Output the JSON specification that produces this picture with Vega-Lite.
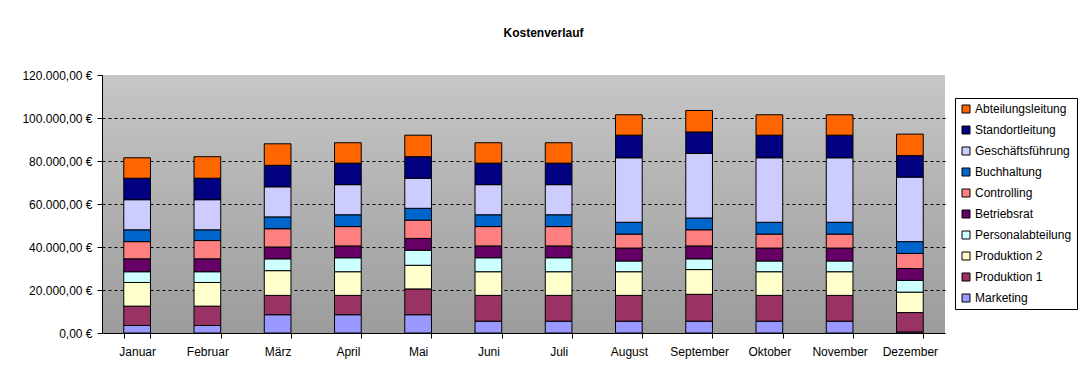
{
  "$schema": "https://vega.github.io/schema/vega-lite/v6.json",
  "width": 843,
  "height": 258,
  "autosize": "none",
  "padding": {"left": 102, "top": 75, "right": 147, "bottom": 50},
  "background": "white",
  "title": {"text": "Kostenverlauf", "fontSize": 12, "font": "Liberation Sans", "fontWeight": "bold", "anchor": "middle", "frame": "group", "dx": 20, "offset": 29, "color": "black"},
  "config": {
    "font": "Liberation Sans",
    "view": {"stroke": null, "fill": {"gradient": "linear", "x1": 0, "y1": 0, "x2": 0, "y2": 1, "stops": [{"offset": 0, "color": "#c6c6c6"}, {"offset": 1, "color": "#9c9c9c"}]}}
  },
  "data": {"values": [
    {"Monat": "Januar", "Marketing": 3500, "Produktion 1": 9000, "Produktion 2": 11000, "Personalabteilung": 5000, "Betriebsrat": 6000, "Controlling": 8000, "Buchhaltung": 5500, "Geschäftsführung": 14000, "Standortleitung": 10000, "Abteilungsleitung": 9500},
    {"Monat": "Februar", "Marketing": 3500, "Produktion 1": 9000, "Produktion 2": 11000, "Personalabteilung": 5000, "Betriebsrat": 6000, "Controlling": 8500, "Buchhaltung": 5000, "Geschäftsführung": 14000, "Standortleitung": 10000, "Abteilungsleitung": 10000},
    {"Monat": "März", "Marketing": 8500, "Produktion 1": 9000, "Produktion 2": 11500, "Personalabteilung": 5500, "Betriebsrat": 5500, "Controlling": 8500, "Buchhaltung": 5500, "Geschäftsführung": 14000, "Standortleitung": 10000, "Abteilungsleitung": 10000},
    {"Monat": "April", "Marketing": 8500, "Produktion 1": 9000, "Produktion 2": 11000, "Personalabteilung": 6500, "Betriebsrat": 5500, "Controlling": 9000, "Buchhaltung": 5500, "Geschäftsführung": 14000, "Standortleitung": 10000, "Abteilungsleitung": 9500},
    {"Monat": "Mai", "Marketing": 8500, "Produktion 1": 12000, "Produktion 2": 11000, "Personalabteilung": 7000, "Betriebsrat": 5500, "Controlling": 8500, "Buchhaltung": 5500, "Geschäftsführung": 14000, "Standortleitung": 10000, "Abteilungsleitung": 10000},
    {"Monat": "Juni", "Marketing": 5500, "Produktion 1": 12000, "Produktion 2": 11000, "Personalabteilung": 6500, "Betriebsrat": 5500, "Controlling": 9000, "Buchhaltung": 5500, "Geschäftsführung": 14000, "Standortleitung": 10000, "Abteilungsleitung": 9500},
    {"Monat": "Juli", "Marketing": 5500, "Produktion 1": 12000, "Produktion 2": 11000, "Personalabteilung": 6500, "Betriebsrat": 5500, "Controlling": 9000, "Buchhaltung": 5500, "Geschäftsführung": 14000, "Standortleitung": 10000, "Abteilungsleitung": 9500},
    {"Monat": "August", "Marketing": 5500, "Produktion 1": 12000, "Produktion 2": 11000, "Personalabteilung": 5000, "Betriebsrat": 6000, "Controlling": 6500, "Buchhaltung": 5500, "Geschäftsführung": 30000, "Standortleitung": 10500, "Abteilungsleitung": 9500},
    {"Monat": "September", "Marketing": 5500, "Produktion 1": 12500, "Produktion 2": 11500, "Personalabteilung": 5000, "Betriebsrat": 6000, "Controlling": 7500, "Buchhaltung": 5500, "Geschäftsführung": 30000, "Standortleitung": 10000, "Abteilungsleitung": 10000},
    {"Monat": "Oktober", "Marketing": 5500, "Produktion 1": 12000, "Produktion 2": 11000, "Personalabteilung": 5000, "Betriebsrat": 6000, "Controlling": 6500, "Buchhaltung": 5500, "Geschäftsführung": 30000, "Standortleitung": 10500, "Abteilungsleitung": 9500},
    {"Monat": "November", "Marketing": 5500, "Produktion 1": 12000, "Produktion 2": 11000, "Personalabteilung": 5000, "Betriebsrat": 6000, "Controlling": 6500, "Buchhaltung": 5500, "Geschäftsführung": 30000, "Standortleitung": 10500, "Abteilungsleitung": 9500},
    {"Monat": "Dezember", "Marketing": 500, "Produktion 1": 9000, "Produktion 2": 9500, "Personalabteilung": 5500, "Betriebsrat": 5500, "Controlling": 7000, "Buchhaltung": 5500, "Geschäftsführung": 30000, "Standortleitung": 10000, "Abteilungsleitung": 10000}
  ]},
  "transform": [
    {"fold": ["Marketing", "Produktion 1", "Produktion 2", "Personalabteilung", "Betriebsrat", "Controlling", "Buchhaltung", "Geschäftsführung", "Standortleitung", "Abteilungsleitung"], "as": ["Kostenstelle", "Kosten"]},
    {"window": [{"op": "row_number", "as": "Rang"}], "groupby": ["Monat"]}
  ],
  "mark": {"type": "bar", "stroke": "black", "strokeWidth": 1, "opacity": 1},
  "encoding": {
    "x": {
      "field": "Monat", "type": "nominal",
      "sort": ["Januar", "Februar", "März", "April", "Mai", "Juni", "Juli", "August", "September", "Oktober", "November", "Dezember"],
      "scale": {"paddingInner": 0.62, "paddingOuter": 0.31},
      "axis": {"title": null, "labelAngle": 0, "labelFontSize": 12, "labelColor": "black", "domainColor": "black", "tickColor": "black", "tickSize": 5, "tickBand": "extent", "labelPadding": 8, "grid": false}
    },
    "y": {
      "field": "Kosten", "type": "quantitative", "stack": "zero",
      "scale": {"domain": [0, 120000], "nice": false},
      "axis": {
        "title": null,
        "values": [0, 20000, 40000, 60000, 80000, 100000, 120000],
        "labelExpr": "replace(replace(replace(format(datum.value, ',.2f'), ',', '_'), '.', ','), '_', '.') + ' €'",
        "labelFontSize": 12, "labelColor": "black", "domainColor": "black", "tickColor": "black", "tickSize": 5, "labelPadding": 5,
        "grid": true, "gridColor": "black", "gridDash": [3, 3], "gridWidth": 1,
        "gridOpacity": {"condition": {"test": "datum.value === 0 || datum.value === 120000", "value": 0}, "value": 1}
      }
    },
    "order": {"field": "Rang", "type": "quantitative", "sort": "ascending"},
    "color": {
      "field": "Kostenstelle", "type": "nominal",
      "sort": ["Abteilungsleitung", "Standortleitung", "Geschäftsführung", "Buchhaltung", "Controlling", "Betriebsrat", "Personalabteilung", "Produktion 2", "Produktion 1", "Marketing"],
      "scale": {
        "domain": ["Abteilungsleitung", "Standortleitung", "Geschäftsführung", "Buchhaltung", "Controlling", "Betriebsrat", "Personalabteilung", "Produktion 2", "Produktion 1", "Marketing"],
        "range": ["#FF6600", "#000080", "#CCCCFF", "#0066CC", "#FF8080", "#660066", "#CCFFFF", "#FFFFCC", "#993366", "#9999FF"]
      },
      "legend": {"title": null, "orient": "none", "legendX": 853, "legendY": 23, "strokeColor": "black", "fillColor": "white", "padding": 5, "symbolType": "square", "symbolSize": 64, "symbolStrokeColor": "black", "symbolStrokeWidth": 1, "symbolOpacity": 1, "labelFontSize": 12, "labelColor": "black", "labelFont": "Liberation Sans", "rowPadding": 9, "labelOffset": 3, "labelLimit": 200}
    }
  }
}
